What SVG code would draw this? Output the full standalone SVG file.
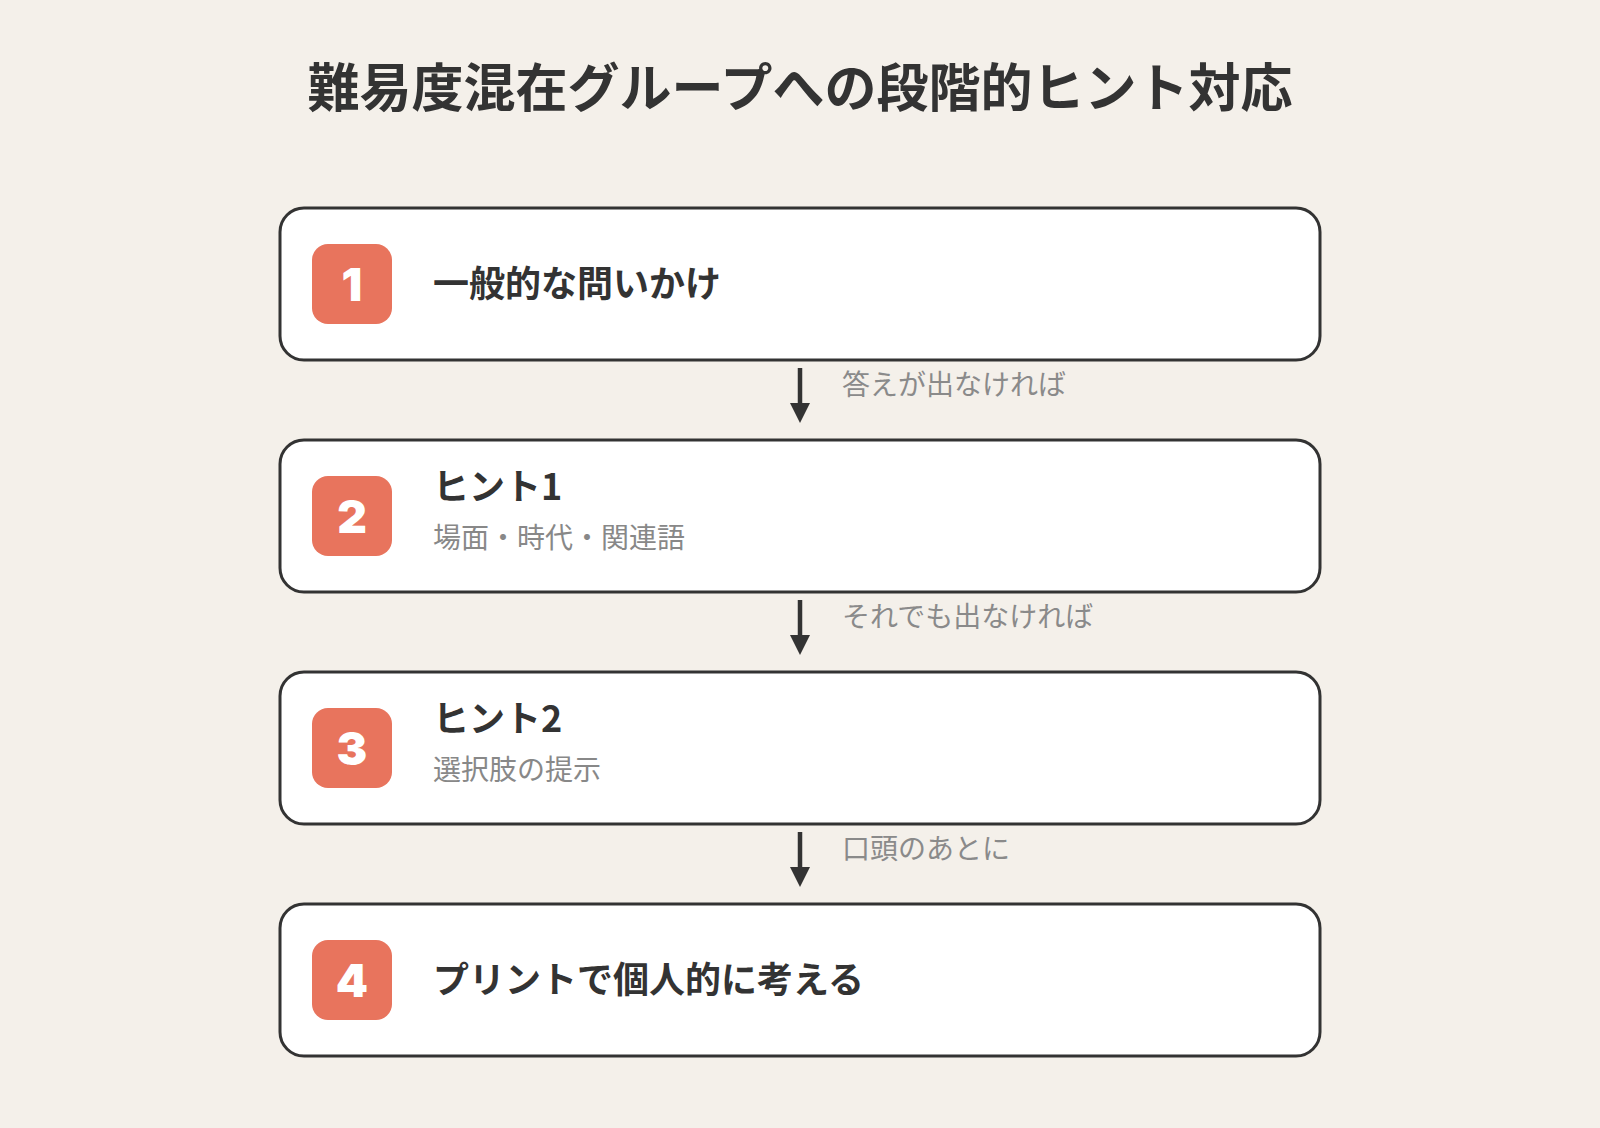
<svg xmlns="http://www.w3.org/2000/svg" width="1600" height="1128" viewBox="0 0 1600 1128">
<defs>
<style>
.bg{fill:#F4F0EA}
.box{fill:#FFFFFF;stroke:#333333;stroke-width:3}
.badge{fill:#E8745D}
.num{font-family:Inter,"Liberation Sans",sans-serif;font-weight:900;font-size:46px;fill:#FFFFFF;text-anchor:middle}
.title{font-family:"Noto Sans CJK JP","Noto Sans",sans-serif;font-weight:700;font-size:52px;fill:#333333;text-anchor:middle}
.main{font-family:"Noto Sans CJK JP","Noto Sans",sans-serif;font-weight:700;font-size:36px;fill:#333333}
.sub{font-family:"Noto Sans CJK JP","Noto Sans",sans-serif;font-weight:400;font-size:28px;fill:#888888}
.lbl{font-family:"Noto Sans CJK JP","Noto Sans",sans-serif;font-weight:400;font-size:28px;fill:#8A8A8A}
.conn{stroke:#333333;stroke-width:4.5;fill:none}
.head{fill:#333333}
</style>
</defs>
<rect class="bg" x="0" y="0" width="1600" height="1128"/>
<text class="title" x="800" y="107">難易度混在グループへの段階的ヒント対応</text>

<g id="node1">
<rect class="box" x="280" y="208" width="1040" height="152" rx="24"/>
<rect class="badge" x="312" y="244" width="80" height="80" rx="16"/>
<text class="num" x="352" y="301">1</text>
<text class="main" x="433" y="297">一般的な問いかけ</text>
</g>

<g id="node2">
<rect class="box" x="280" y="440" width="1040" height="152" rx="24"/>
<rect class="badge" x="312" y="476" width="80" height="80" rx="16"/>
<text class="num" x="352" y="533">2</text>
<text class="main" x="433" y="500">ヒント1</text>
<text class="sub" x="433" y="548">場面・時代・関連語</text>
</g>

<g id="node3">
<rect class="box" x="280" y="672" width="1040" height="152" rx="24"/>
<rect class="badge" x="312" y="708" width="80" height="80" rx="16"/>
<text class="num" x="352" y="765">3</text>
<text class="main" x="433" y="732">ヒント2</text>
<text class="sub" x="433" y="780">選択肢の提示</text>
</g>

<g id="node4">
<rect class="box" x="280" y="904" width="1040" height="152" rx="24"/>
<rect class="badge" x="312" y="940" width="80" height="80" rx="16"/>
<text class="num" x="352" y="997">4</text>
<text class="main" x="433" y="993">プリントで個人的に考える</text>
</g>

<g id="connectors">
<line class="conn" x1="800" y1="368" x2="800" y2="406"/>
<path class="head" d="M790,403 L810,403 L800,423 Z"/>
<text class="lbl" x="842" y="395">答えが出なければ</text>
<line class="conn" x1="800" y1="600" x2="800" y2="638"/>
<path class="head" d="M790,635 L810,635 L800,655 Z"/>
<text class="lbl" x="842" y="627">それでも出なければ</text>
<line class="conn" x1="800" y1="832" x2="800" y2="870"/>
<path class="head" d="M790,867 L810,867 L800,887 Z"/>
<text class="lbl" x="842" y="859">口頭のあとに</text>
</g>
</svg>
